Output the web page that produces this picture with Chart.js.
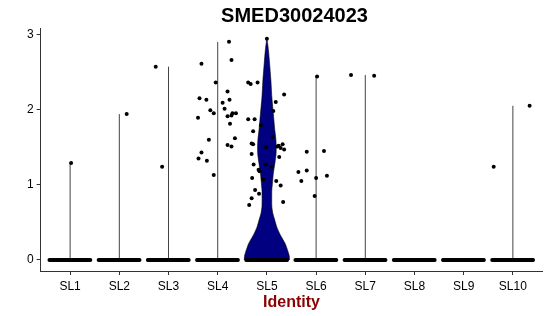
<!DOCTYPE html>
<html>
<head>
<meta charset="utf-8">
<script src="https://cdn.jsdelivr.net/npm/chart.js@4.4.1/dist/chart.umd.min.js"></script>
<style>
  html, body { margin: 0; padding: 0; background: #fff; }
  canvas { display: block; }
</style>
</head>
<body>
<canvas id="myChart" width="550" height="316"></canvas>
<script>
const plotTitle = 'SMED30024023'
const categories = ['SL1', 'SL2', 'SL3', 'SL4', 'SL5', 'SL6', 'SL7', 'SL8', 'SL9', 'SL10']
const yTicks = [0, 1, 2, 3]

// top of the (zero width) violin in each group, null = all cells zero
const lineTops = [1.29, 1.94, 2.57, 2.90, null, 2.44, 2.46, null, null, 2.05]

// SL5 violin outline: value and half width (in category units)
const violinValues = [0, 0.05, 0.09, 0.15, 0.22, 0.29, 0.35, 0.44, 0.53, 0.62, 0.71, 0.82, 0.93, 1.04, 1.15, 1.30, 1.40, 1.51, 1.62, 1.73, 1.95, 2.17, 2.40, 2.61, 2.80, 2.93]
const violinHalfWidth = [0.46, 0.455, 0.44, 0.41, 0.37, 0.31, 0.26, 0.20, 0.16, 0.12, 0.10, 0.098, 0.10, 0.115, 0.13, 0.165, 0.185, 0.19, 0.18, 0.16, 0.13, 0.10, 0.08, 0.055, 0.03, 0]

// jitter offsets used for the cells that are zero
const zeroJitter = [-0.42, -0.4, -0.38, -0.37, -0.35, -0.33, -0.31, -0.3, -0.28, -0.26, -0.24, -0.22, -0.21, -0.19,
    -0.18, -0.15, -0.14, -0.12, -0.11, -0.09, -0.08, -0.06, -0.04, -0.03, -0.01, 0.01, 0.03, 0.04, 0.06, 0.07,
    0.09, 0.1, 0.12, 0.13, 0.14, 0.16, 0.17, 0.19, 0.21, 0.22, 0.23, 0.25, 0.26, 0.28, 0.3, 0.31, 0.33, 0.34,
    0.36, 0.37, 0.39, 0.41]

// expressing cells: [jitter offset, value]
const ptsSL1 = [[0.02, 1.29]]
const ptsSL2 = [[0.15, 1.94]]
const ptsSL3 = [[-0.26, 2.57], [-0.13, 1.24]]
const ptsSL4 = [[0.23, 2.90], [-0.33, 2.61], [0.28, 2.66], [-0.04, 2.36], [0.2, 2.24], [-0.37, 2.15], [-0.23, 2.13],
    [0.24, 2.13], [0.1, 2.09], [-0.15, 1.99], [0.14, 2.01], [-0.08, 1.95], [-0.4, 1.89], [0.2, 1.91], [0.28, 1.92],
    [0.37, 1.95], [0.3, 1.95], [0.25, 1.81], [-0.18, 1.60], [0.35, 1.62], [0.2, 1.53], [0.28, 1.51], [-0.33, 1.43],
    [-0.39, 1.35], [-0.22, 1.32], [-0.08, 1.13]]
const ptsSL5 = [[0, 2.94], [-0.38, 2.36], [-0.33, 2.34], [-0.19, 2.36], [0.35, 2.20], [0.18, 2.10], [0.13, 1.98],
    [-0.38, 1.87], [-0.25, 1.87], [-0.12, 1.79], [-0.28, 1.71], [0.12, 1.64], [-0.31, 1.55], [-0.28, 1.54],
    [-0.02, 1.50], [0.21, 1.51], [0.24, 1.52], [0.32, 1.54], [0.35, 1.47], [0.28, 1.49], [-0.31, 1.41], [0.25, 1.37],
    [-0.27, 1.27], [-0.02, 1.27], [0.1, 1.24], [-0.17, 1.20], [-0.15, 1.18], [-0.3, 1.09], [-0.07, 1.07],
    [0.19, 1.05], [0.28, 0.99], [-0.24, 0.93], [-0.16, 0.88], [-0.31, 0.82], [-0.36, 0.73], [0.33, 0.77]]
const ptsSL6 = [[0.02, 2.44], [-0.19, 1.44], [0.16, 1.45], [-0.36, 1.17], [-0.19, 1.19], [-0.3, 1.05], [0, 1.09],
    [0.22, 1.12], [-0.03, 0.85]]
const ptsSL7 = [[-0.29, 2.46], [0.18, 2.45]]
const ptsSL8 = []
const ptsSL9 = []
const ptsSL10 = [[-0.39, 1.24], [0.34, 2.05]]

const groupPoints = [ptsSL1, ptsSL2, ptsSL3, ptsSL4, ptsSL5, ptsSL6, ptsSL7, ptsSL8, ptsSL9, ptsSL10]

const fontFamily = '"Liberation Sans", Arial, Helvetica, sans-serif'

const points = []
categories.forEach((cat, i) => {
    zeroJitter.forEach(j => points.push({x: i + 1 + j, y: 0}))
    groupPoints[i].forEach(p => points.push({x: i + 1 + p[0], y: p[1]}))
})

const violinCenter = categories.indexOf('SL5') + 1
const violinOutline = []
violinValues.forEach((v, k) => violinOutline.push({x: violinCenter + violinHalfWidth[k], y: v}))
for (let k = violinValues.length - 2; k >= 0; k--) {
    violinOutline.push({x: violinCenter - violinHalfWidth[k], y: violinValues[k]})
}

const datasets = [{
    data: points,
    pointRadius: 2,
    pointBackgroundColor: '#000',
    pointBorderWidth: 0,
    showLine: false,
    order: 0
}, {
    data: violinOutline,
    showLine: true,
    pointRadius: 0,
    borderColor: '#000',
    borderWidth: 0.6,
    backgroundColor: '#000080',
    fill: 'shape',
    tension: 0.2,
    order: 1
}]

lineTops.forEach((top, i) => {
    if (top === null) return
    datasets.push({
        data: [{x: i + 1, y: 0}, {x: i + 1, y: top}],
        showLine: true,
        pointRadius: 0,
        borderColor: '#444',
        borderWidth: 1,
        fill: false,
        order: 2
    })
})

const titlePlugin = {
    id: 'panelTitle',
    afterDraw(chart) {
        const {ctx, chartArea} = chart
        ctx.save()
        ctx.font = 'bold 20px ' + fontFamily
        ctx.fillStyle = '#000'
        ctx.textAlign = 'center'
        ctx.textBaseline = 'alphabetic'
        ctx.fillText(plotTitle, (chartArea.left + chartArea.right) / 2 + 3, 22)
        ctx.restore()
    }
}

const config = {
    type: 'scatter',
    data: {datasets: datasets},
    options: {
        responsive: false,
        animation: false,
        events: [],
        layout: {padding: {top: 28.6, left: 0, right: 7.6, bottom: 0}},
        plugins: {legend: {display: false}, tooltip: {enabled: false}},
        scales: {
            x: {
                type: 'linear',
                min: 0.4,
                max: 10.6,
                afterBuildTicks: scale => { scale.ticks = categories.map((c, i) => ({value: i + 1})) },
                afterFit: scale => { scale.height = 45 },
                ticks: {
                    callback: v => categories[Math.round(v) - 1],
                    color: '#000',
                    font: {family: fontFamily, size: 12},
                    padding: 4,
                    autoSkip: false,
                    maxRotation: 0
                },
                grid: {drawOnChartArea: false, tickLength: 4, color: '#333'},
                border: {display: true, color: '#333', width: 1},
                title: {
                    display: true,
                    text: 'Identity',
                    color: '#8B0000',
                    font: {family: fontFamily, size: 16, weight: 'bold'},
                    padding: {top: 0, bottom: 4}
                }
            },
            y: {
                type: 'linear',
                min: -0.1465,
                max: 3.0765,
                afterBuildTicks: scale => { scale.ticks = yTicks.map(v => ({value: v})) },
                afterFit: scale => { scale.width = 40.6 },
                ticks: {
                    color: '#000',
                    font: {family: fontFamily, size: 12},
                    padding: 3
                },
                grid: {drawOnChartArea: false, tickLength: 4, color: '#333'},
                border: {display: true, color: '#333', width: 1}
            }
        }
    },
    plugins: [titlePlugin]
}

const myChart = new Chart(document.getElementById('myChart'), config)
</script>
</body>
</html>
